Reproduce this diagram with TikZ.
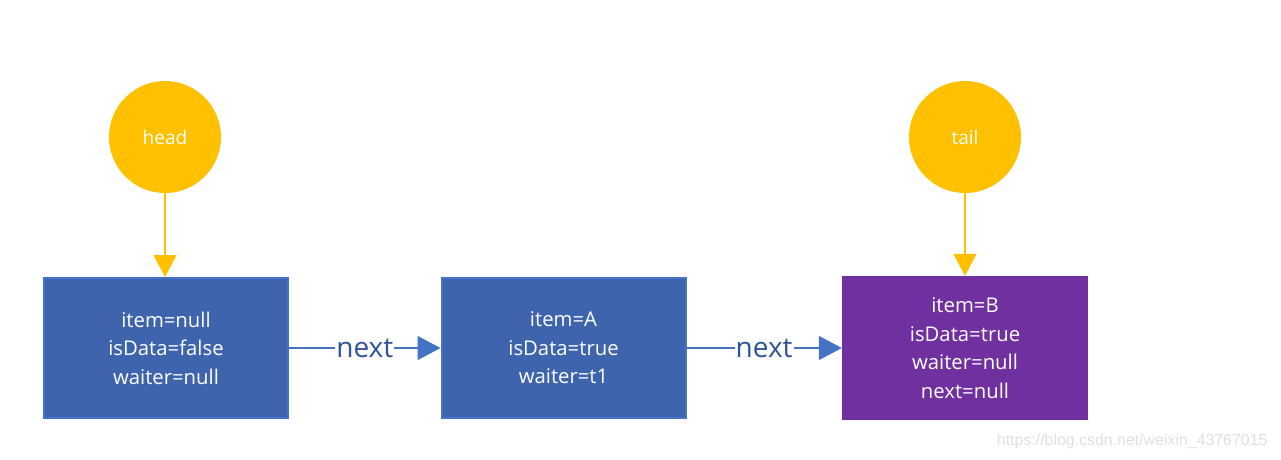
\documentclass[tikz,border=0pt]{standalone}
\usepackage{fontspec}
\setmainfont{Open Sans}
\newfontfamily\wmfont{Liberation Sans}
\usetikzlibrary{arrows.meta}
\definecolor{boxblue}{HTML}{3F64AE}
\definecolor{boxedge}{HTML}{4472C4}
\definecolor{boxpurple}{HTML}{7030A0}
\definecolor{gold}{HTML}{FFC000}
\definecolor{labelblue}{HTML}{2F5597}
\tikzset{
  listbox/.style={draw=boxedge, line width=2pt, fill=boxblue, minimum width=244pt, minimum height=140pt, inner sep=0pt, text=white, font=\fontsize{20.3}{28.5}\selectfont, align=center},
  tailbox/.style={fill=boxpurple, minimum width=246pt, minimum height=144pt, inner sep=0pt, text=white, font=\fontsize{20.3}{28.5}\selectfont, align=center},
  ptr/.style={circle, fill=gold, minimum size=112pt, inner sep=0pt, text=white, font=\fontsize{19}{22}\selectfont},
  ptrarrow/.style={draw=gold, line width=1.5pt, -{Triangle[length=22pt,width=23pt]}},
  nextarrow/.style={draw=boxedge, line width=1.5pt, -{Triangle[length=23pt,width=24pt]}},
  nextlabel/.style={fill=white, inner sep=1pt, text=labelblue, font=\fontsize{28}{30}\selectfont}
}
\begin{document}
\begin{tikzpicture}[x=1pt,y=-1pt]
\useasboundingbox (0,0) rectangle (1281,459);
\node[ptr] (head) at (165,137) {head};
\node[ptr] (tail) at (965,137) {tail};
\node[listbox] (n1) at (166,348) {item=null\\isData=false\\waiter=null};
\node[listbox] (n2) at (563.5,348) {item=A\\isData=true\\waiter=t1};
\node[tailbox] (n3) at (965,348) {item=B\\isData=true\\waiter=null\\next=null};
\draw[ptrarrow] (head.south) -- (head.south |- n1.north);
\draw[ptrarrow] (tail.south) -- (tail.south |- n3.north);
\draw[nextarrow] (n1.east) -- node[nextlabel] {next} (n2.west);
\draw[nextarrow] (n2.east) -- node[nextlabel] {next} (n3.west);
\node[text=black!12, font=\wmfont\fontsize{15.9}{17}\selectfont, anchor=east] (wm) at (1271,441) {https://blog.csdn.net/weixin\_43767015};
\end{tikzpicture}
\end{document}
